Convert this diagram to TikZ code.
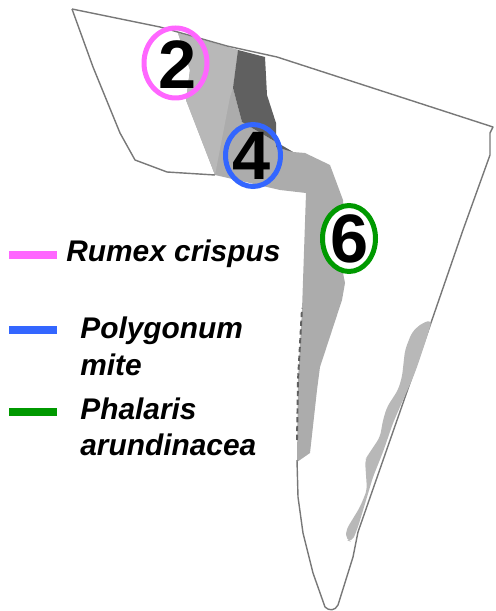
\documentclass[tikz,border=0pt]{standalone}
\usepackage{fontspec}
\setmainfont{Liberation Sans}
\definecolor{RumexPink}{RGB}{255, 102, 255}
\definecolor{PolyBlue}{RGB}{51, 102, 255}
\definecolor{PhalGreen}{RGB}{0, 153, 0}
\definecolor{ZoneGray}{RGB}{172, 172, 172}
\definecolor{ZoneLight}{RGB}{184, 184, 184}
\definecolor{ZoneDark}{RGB}{96, 96, 96}
\definecolor{EdgeGray}{RGB}{120, 120, 120}
\usetikzlibrary{shapes.geometric}
\begin{document}
\begin{tikzpicture}[x=0.02cm, y=-0.02cm,
  ring/.style={ellipse, line width=2.85pt, inner sep=0pt},
  num/.style={font=\fontsize{39}{39}\selectfont\bfseries, text=black, inner sep=0pt},
  lab/.style={font=\fontsize{17}{21}\selectfont\bfseries\itshape, text=black, anchor=base west, inner sep=0pt},
  swatch/.style={line width=4pt},
  edge/.style={draw=EdgeGray, line width=0.8pt, line join=round}]
\useasboundingbox (0, 0) rectangle (496, 611);
% vegetation zones
\fill[ZoneGray] (178, 33) -- (238, 50) -- (233, 88) -- (242, 122) -- (293, 152) -- (305, 153) -- (330, 165) -- (343, 200)
  -- (343, 273) -- (345, 283) -- (342, 300) -- (320, 367) -- (317, 390) -- (310, 453) -- (297, 462) -- (298, 380) -- (302, 310) -- (306, 193) -- (280, 190) -- (215, 175) -- (186, 100) -- (190, 70) -- cycle;
\fill[ZoneLight] (178, 33) -- (238, 50) -- (233, 88) -- (230, 97) -- (215, 175) -- (186, 100) -- (190, 70) -- cycle;
\fill[ZoneDark] (238, 50) -- (265, 57) -- (267, 95) -- (276, 123) -- (276, 147) -- (293, 152) -- (242, 122) -- (233, 88) -- cycle;
% outline
\draw[edge] (72, 9) -- (160, 27) -- (227, 46) -- (277, 57) -- (493, 127) -- (490, 133) -- (490, 155) -- (463, 230) -- (433, 317)
  -- (358, 532) -- (353, 557) -- (338, 605) .. controls (335, 611) and (329, 611) .. (325, 607) -- (313, 573) -- (303, 533) -- (298, 497) -- (297, 460);
\draw[edge] (72, 9) -- (93, 67) -- (120, 133) -- (135, 160) -- (167, 172) -- (215, 175);
\draw[edge, draw=ZoneDark, densely dashed, line width=1.1pt] (297, 440) -- (298, 380) -- (302, 308);
\fill[ZoneLight, rounded corners=3pt] (432, 320) -- (427, 337) -- (417, 367) -- (412, 380) -- (403, 400) -- (393, 423) -- (383, 452) -- (373, 477) -- (367, 497) -- (358, 527) -- (352, 542)
  -- (346, 540) -- (346, 530) -- (360, 507) -- (367, 490) -- (365, 460) -- (368, 455) -- (380, 437) -- (383, 420) -- (387, 407) -- (398, 390) -- (402, 377) -- (405, 350) -- (412, 332) -- (422, 323) -- cycle;
% plots
\node[ring, draw=RumexPink, minimum width=1.26cm, minimum height=1.4cm] (ring2) at (175.5, 63) {};
\node[ring, draw=PolyBlue, minimum width=1.1cm, minimum height=1.24cm] (ring4) at (253, 155.5) {};
\node[ring, draw=PhalGreen, fill=white, minimum width=1.06cm, minimum height=1.32cm] (ring6) at (349, 238.5) {};
\node[num] (n2) at (177.5, 64.5) {2};
\node[num] (n4) at (252, 156) {4};
\node[num] (n6) at (350, 239) {6};
% legend
\node[lab] (rumex) at (66, 261) {Rumex crispus};
\node[lab] (polygonum) at (80, 338) {Polygonum};
\node[lab] (mite) at (80, 375) {mite};
\node[lab] (phalaris) at (80, 419) {Phalaris};
\node[lab] (arundinacea) at (80, 455) {arundinacea};
\draw[swatch, RumexPink] (9, 255) -- (57, 255);
\draw[swatch, PolyBlue] (9, 330) -- (57, 330);
\draw[swatch, PhalGreen] (9, 412) -- (57, 412);
\end{tikzpicture}
\end{document}
